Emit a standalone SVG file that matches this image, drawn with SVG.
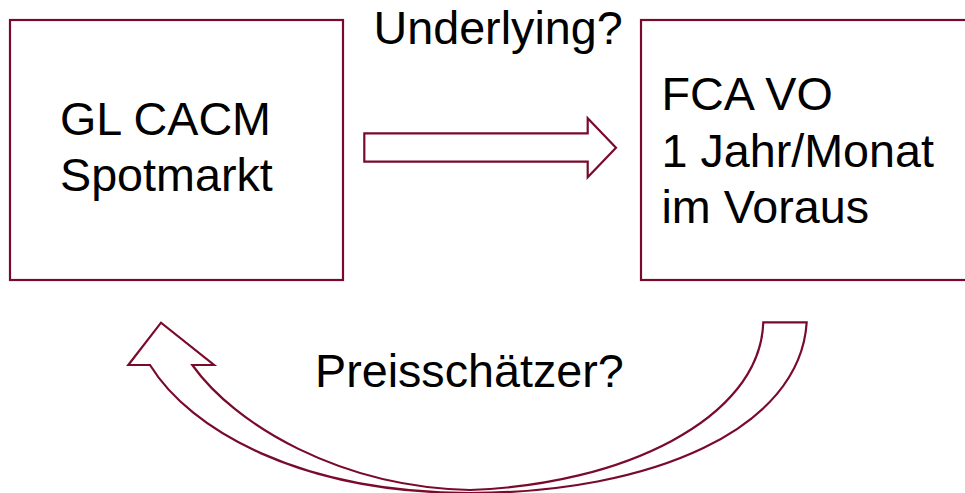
<svg xmlns="http://www.w3.org/2000/svg" width="965" height="493" viewBox="0 0 965 493">
<style>
.box{fill:#fff;stroke:#7a0a2c;stroke-width:2.2}
.arr{fill:#fff;stroke:#7a0a2c;stroke-width:2.2;stroke-linejoin:miter}
.t{font-family:"Liberation Sans",Arial,sans-serif;font-size:46.7px;fill:#000}
</style>
<rect width="965" height="493" fill="#fff"/>
<g id="node-spot">
<rect class="box" x="10" y="20" width="333" height="260"/>
<text class="t" x="60" y="135">GL CACM</text>
<text class="t" x="60" y="191">Spotmarkt</text>
</g>
<g id="node-fca">
<rect class="box" x="641" y="20" width="340" height="260"/>
<text class="t" x="661.5" y="109.5">FCA VO</text>
<text class="t" x="661.5" y="166.5">1 Jahr/Monat</text>
<text class="t" x="661.5" y="223">im Voraus</text>
</g>
<g id="connectors">
<path class="arr" d="M364.3 133.3 L587.7 133.3 L587.7 118.3 L616 147.7 L587.7 177.3 L587.7 161.7 L364.3 161.7 Z"/>
<path class="arr" d="M806.7 322.3 C800 430 650 493 470 493 C300 493 190 430 150 365 L128.3 365 L161 322.7 L214 365 L192.3 365 C235 425 340 487 470 490 C620 485 760 420 763.3 322.3 Z"/>
</g>
<text class="t" x="373.5" y="44">Underlying?</text>
<text class="t" x="315" y="386.7">Preisschätzer?</text>
</svg>
